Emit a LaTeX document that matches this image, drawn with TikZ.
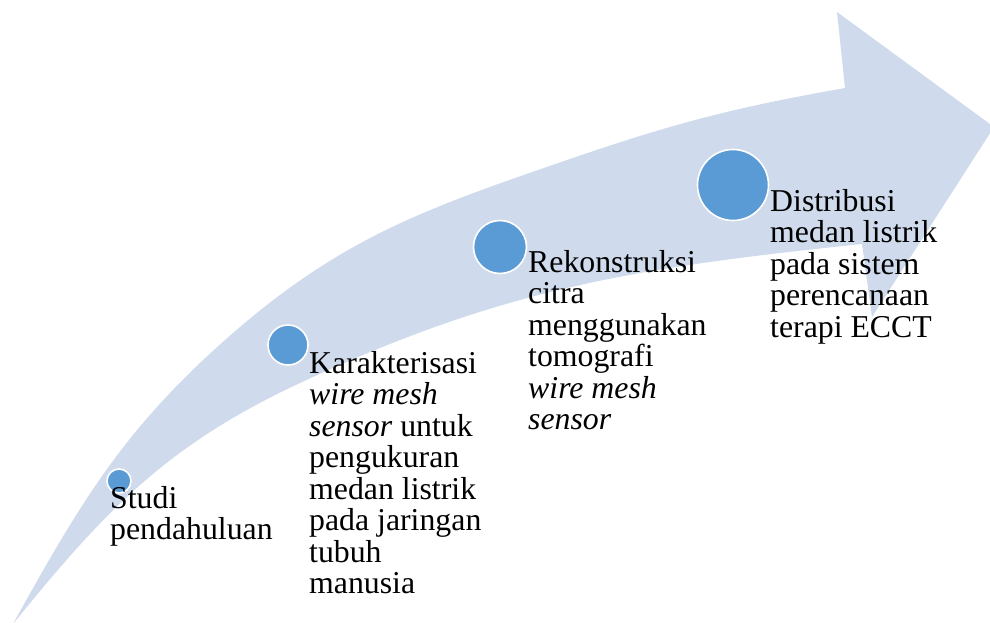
\documentclass[tikz,border=0pt]{standalone}
\usepackage{fontspec}
\setmainfont{Liberation Serif}
\definecolor{bandfill}{RGB}{207,219,237}
\definecolor{dotfill}{RGB}{91,155,213}
\tikzset{
  band/.style={fill=bandfill, draw=none},
  dot/.style={circle, fill=dotfill, draw=white, line width=1.6pt, inner sep=0pt},
  lbl/.style={anchor=base west, inner sep=0pt, font=\fontsize{31.8}{31.5}\selectfont}
}
\newcommand{\lines}[1]{\parbox[t]{8cm}{\raggedright #1}}
\begin{document}
\begin{tikzpicture}[x=1pt,y=-1pt]
\useasboundingbox (0,0) rectangle (990,623);
\clip (0,0) rectangle (990,623);
\fill[band] (13,624) to[out=61,in=221] (233,333) to[out=41,in=199] (567,160) to[out=19,in=190] (845,88)
  -- (837,12) -- (994,127) -- (872,317) -- (862,244)
  to[out=186,in=25] (300,383) to[out=205,in=51] (13,624) -- cycle;
\node[dot, minimum size=24pt] (c1) at (119,481) {};
\node[dot, minimum size=40pt] (c2) at (288,345) {};
\node[dot, minimum size=53pt] (c3) at (500,247) {};
\node[dot, minimum size=71pt] (c4) at (733,185) {};
\node[lbl] (t1) at (110,508) {\lines{Studi\\pendahuluan}};
\node[lbl] (t2) at (309,373) {\lines{Karakterisasi\\\textit{wire mesh}\\\textit{sensor} untuk\\pengukuran\\medan listrik\\pada jaringan\\tubuh\\manusia}};
\node[lbl] (t3) at (528,272) {\lines{Rekonstruksi\\citra\\menggunakan\\tomografi\\\textit{wire mesh}\\\textit{sensor}}};
\node[lbl] (t4) at (770,211) {\lines{Distribusi\\medan listrik\\pada sistem\\perencanaan\\terapi ECCT}};
\end{tikzpicture}
\end{document}
